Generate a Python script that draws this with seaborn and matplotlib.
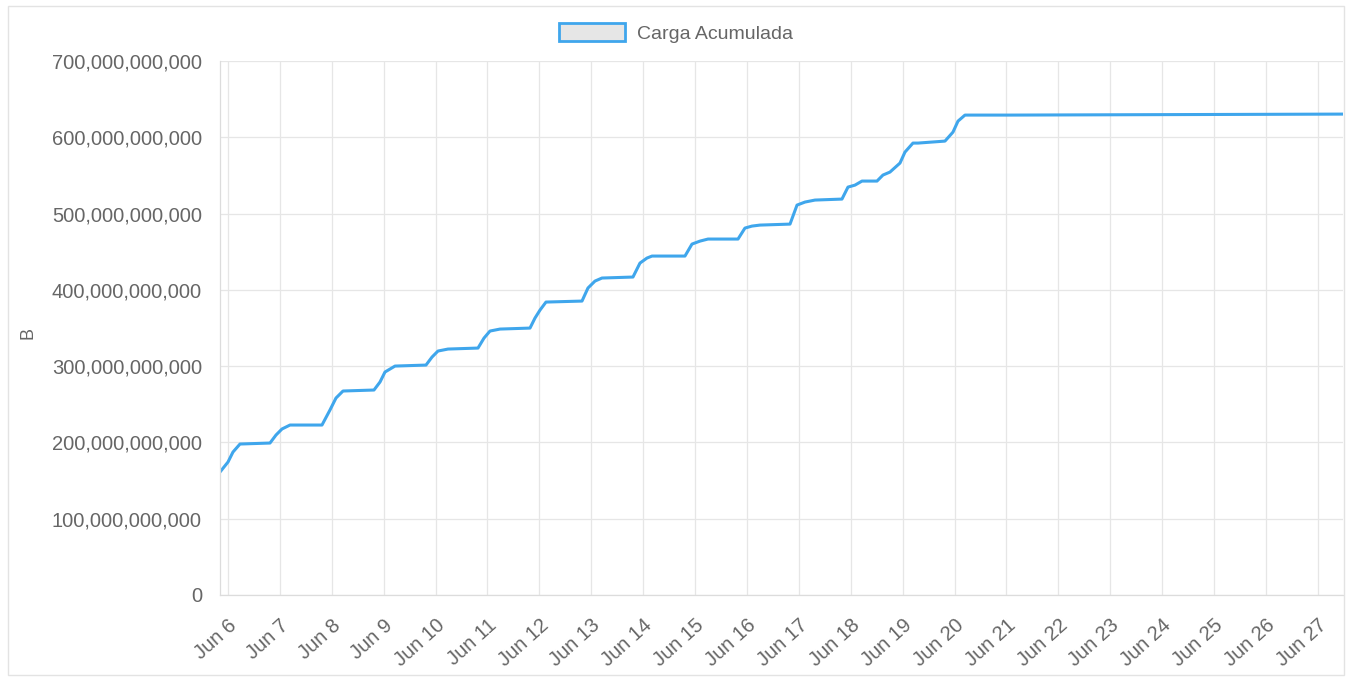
import matplotlib
matplotlib.use('Agg')
import matplotlib.pyplot as plt
import matplotlib.ticker as mticker
from matplotlib.patches import Patch, Rectangle
import seaborn as sns
import pandas as pd
import numpy as np

# days after Jun 6 00:00 and cumulative load in billions of bytes
day_offset = [-0.154, 0.0, 0.096, 0.231, 0.809, 0.925, 1.040, 1.195, 1.811, 1.965,
              2.081, 2.216, 2.813, 2.929, 3.025, 3.218, 3.815, 3.931, 4.046, 4.239,
              4.817, 4.933, 5.048, 5.241, 5.819, 5.915, 6.012, 6.127, 6.821, 6.936,
              7.071, 7.206, 7.803, 7.938, 8.073, 8.170, 8.805, 8.940, 9.094, 9.249,
              9.827, 9.961, 10.096, 10.250, 10.829, 10.964, 11.118, 11.310, 11.830, 11.946,
              12.081, 12.216, 12.505, 12.620, 12.755, 12.948, 13.044, 13.198, 13.295, 13.815,
              13.969, 14.066, 14.200, 15.067, 21.484]
carga_gb = [161.2, 174.3, 187.4, 197.9, 199.2, 209.7, 217.6, 222.8, 222.8, 242.5,
            258.2, 267.4, 268.7, 279.2, 292.3, 300.1, 301.4, 311.9, 319.8, 322.4,
            323.7, 336.8, 346.0, 348.6, 349.9, 363.0, 373.5, 384.0, 385.3, 402.4,
            411.5, 415.5, 416.8, 435.1, 441.7, 444.3, 444.3, 460.0, 463.9, 466.6,
            466.6, 481.0, 483.6, 484.9, 486.2, 511.1, 515.1, 517.7, 519.0, 534.7,
            537.3, 542.6, 542.6, 550.5, 554.4, 566.2, 580.6, 592.4, 592.4, 595.0,
            606.8, 621.2, 629.1, 629.1, 630.4]
tick_days = list(range(6, 28))
y_ticks = [0, 100e9, 200e9, 300e9, 400e9, 500e9, 600e9, 700e9]

base = pd.Timestamp('2023-06-06')
df = pd.DataFrame({
    'fecha': base + pd.to_timedelta(day_offset, unit='D'),
    'carga': np.array(carga_gb) * 1e9,
})

LINE = '#3FA6EC'
GRID = '#e6e6e6'
TXT = '#666666'

sns.set_theme(style='white')
plt.rcParams['font.family'] = ['Liberation Sans', 'DejaVu Sans']

fig = plt.figure(figsize=(13.5, 6.77), dpi=100)
ax = fig.add_axes([220 / 1350, 1 - 595 / 677, (1343 - 220) / 1350, (595 - 61) / 677])

sns.lineplot(data=df, x='fecha', y='carga', ax=ax, color=LINE, linewidth=2.2,
             solid_joinstyle='round', solid_capstyle='round')

ax.set_ylim(0, 700e9)
ax.set_yticks(y_ticks)
ax.yaxis.set_major_formatter(mticker.FuncFormatter(lambda v, p: '{:,.0f}'.format(v)))

tick_dates = [pd.Timestamp(2023, 6, d) for d in tick_days]
ax.set_xlim(base + pd.Timedelta(days=-0.154), base + pd.Timedelta(days=21.484))
ax.set_xticks(tick_dates)
ax.set_xticklabels(['Jun {}'.format(d) for d in tick_days], rotation=42,
                   ha='right', rotation_mode='anchor')

ax.grid(True, color=GRID, linewidth=0.9)
for s in ['top', 'right']:
    ax.spines[s].set_visible(False)
for s in ['left', 'bottom']:
    ax.spines[s].set_color('#dcdcdc')
    ax.spines[s].set_linewidth(0.9)

ax.tick_params(axis='both', colors=GRID, labelcolor=TXT, labelsize=14.5,
               length=9, width=0.9)
ax.tick_params(axis='y', pad=4)
ax.tick_params(axis='x', pad=6)

ax.set_xlabel('')
ax.set_ylabel('B', color=TXT, fontsize=13)
ax.yaxis.set_label_coords(-184 / 1123, 0.49)

handle = Patch(facecolor='#e6e6e6', edgecolor=LINE, linewidth=2)
fig.legend([handle], ['Carga Acumulada'], loc='center', bbox_to_anchor=(676 / 1350, 1 - 33 / 677),
           frameon=False, fontsize=14, handlelength=3.4, handleheight=1.0,
           handletextpad=0.6, labelcolor=TXT)

fig.patches.append(Rectangle((8 / 1350, 2 / 677), 1336 / 1350, 669 / 677,
                             transform=fig.transFigure, fill=False,
                             edgecolor='#e3e3e3', linewidth=1))

fig.savefig('out.png', dpi=100)
